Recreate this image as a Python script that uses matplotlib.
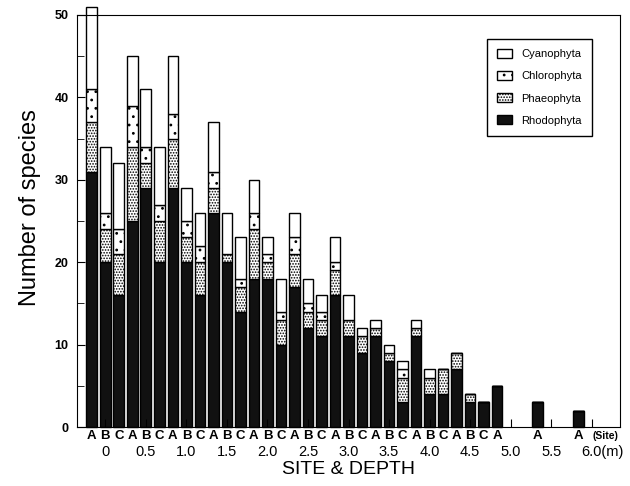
import matplotlib
matplotlib.use("Agg")
import matplotlib.pyplot as plt
from matplotlib.patches import Patch
from matplotlib.transforms import blended_transform_factory
import numpy as np

plt.rcParams['font.family'] = ['Liberation Sans', 'DejaVu Sans']
plt.rcParams['hatch.linewidth'] = 0.8

depths = ["0", "0.5", "1.0", "1.5", "2.0", "2.5", "3.0", "3.5", "4.0", "4.5", "5.0", "5.5", "6.0"]
sites = ["A", "B", "C"]

# bars in order: for each depth, sites present
bar_labels = [
    "0A", "0B", "0C", "0.5A", "0.5B", "0.5C", "1.0A", "1.0B", "1.0C",
    "1.5A", "1.5B", "1.5C", "2.0A", "2.0B", "2.0C", "2.5A", "2.5B", "2.5C",
    "3.0A", "3.0B", "3.0C", "3.5A", "3.5B", "3.5C", "4.0A", "4.0B", "4.0C",
    "4.5A", "4.5B", "4.5C", "5.0A", "5.5A", "6.0A",
]
rhodophyta = [31, 20, 16, 25, 29, 20, 29, 20, 16, 26, 20, 14, 18, 18, 10, 17, 12, 11,
              16, 11, 9, 11, 8, 3, 11, 4, 4, 7, 3, 3, 5, 3, 2]
phaeophyta = [6, 4, 5, 9, 3, 5, 6, 3, 4, 3, 1, 3, 6, 2, 3, 4, 2, 2,
              3, 2, 2, 1, 1, 3, 1, 2, 3, 2, 1, 0, 0, 0, 0]
chlorophyta = [4, 2, 3, 5, 2, 2, 3, 2, 2, 2, 0, 1, 2, 1, 1, 2, 1, 1,
               1, 0, 0, 0, 0, 1, 0, 0, 0, 0, 0, 0, 0, 0, 0]
cyanophyta = [10, 8, 8, 6, 7, 7, 7, 4, 4, 6, 5, 5, 4, 2, 4, 3, 3, 2,
              3, 3, 1, 1, 1, 1, 1, 1, 0, 0, 0, 0, 0, 0, 0]

def slot(lbl):
    d = lbl[:-1]
    s = lbl[-1]
    return depths.index(d) * 3 + sites.index(s)

x = np.array([slot(l) for l in bar_labels], dtype=float)
R = np.array(rhodophyta); P = np.array(phaeophyta)
C = np.array(chlorophyta); Y = np.array(cyanophyta)

fig = plt.figure(figsize=(6.3, 4.86), dpi=100)
ax = fig.add_axes([77/630, 1-427/486, (620-77)/630, (427-15)/486])

w = 0.8
kw = dict(width=w, edgecolor='black', linewidth=1.0, clip_on=False)
ax.bar(x, R, color='#111111', label='Rhodophyta', **kw)
ax.bar(x, P, bottom=R, color='white', hatch='......', label='Phaeophyta', **kw)
ax.bar(x, C, bottom=R+P, color='white', hatch='..', label='Chlorophyta', **kw)
ax.bar(x, Y, bottom=R+P+C, color='white', label='Cyanophyta', **kw)

ax.set_xlim(-1.1, 39.1)
ax.set_ylim(0, 50)
ax.set_yticks([0, 10, 20, 30, 40, 50])
ax.set_yticks([5, 15, 25, 35, 45], minor=True)
ax.tick_params(axis='y', which='both', direction='in', labelsize=9, pad=6)
ax.tick_params(axis='y', which='major', length=6)
ax.tick_params(axis='y', which='minor', length=5)
for t in ax.get_yticklabels():
    t.set_fontweight('bold')

centers = [3*i + 1 for i in range(len(depths))]
ax.set_xticks(centers)
ax.tick_params(axis='x', which='major', direction='in', length=6, labelbottom=False)

trans = blended_transform_factory(ax.transData, fig.transFigure)
yabc = 1 - 436/486
ydep = 1 - 452/486
for i, d in enumerate(depths):
    present = [s for s in sites if (d + s) in bar_labels]
    for s in present:
        ax.text(3*i + sites.index(s), yabc, s, transform=trans, ha='center', va='center',
                fontsize=9.5, fontweight='bold')
    label = d + "(m)" if d == "6.0" else d
    xpos = 3*i + 1 + (0.8 if d == "6.0" else 0)
    ax.text(xpos, ydep, label, transform=trans, ha='center', va='center', fontsize=10.5)
ax.text(38.0, yabc, "(Site)", transform=trans, ha='center', va='center', fontsize=7.5,
        fontweight='bold')

fig.text(349/630, 1 - 469/486, "SITE & DEPTH", ha='center', va='center', fontsize=14)
fig.text(30/630, 1 - 208/486, "Number of species", ha='center', va='center', fontsize=17,
         rotation=90)

handles = [
    Patch(facecolor='white', edgecolor='black', label='Cyanophyta'),
    Patch(facecolor='white', edgecolor='black', hatch='..', label='Chlorophyta'),
    Patch(facecolor='white', edgecolor='black', hatch='......', label='Phaeophyta'),
    Patch(facecolor='#111111', edgecolor='black', label='Rhodophyta'),
]
leg = ax.legend(handles=handles, loc='upper right', bbox_to_anchor=(0.948, 0.942),
                borderaxespad=0, fontsize=8, frameon=True, fancybox=False,
                edgecolor='black', framealpha=1, handlelength=1.4, handleheight=0.9,
                labelspacing=1.05, borderpad=0.9, handletextpad=0.8)
leg.get_frame().set_linewidth(1.0)

fig.savefig("out.png", dpi=100)
